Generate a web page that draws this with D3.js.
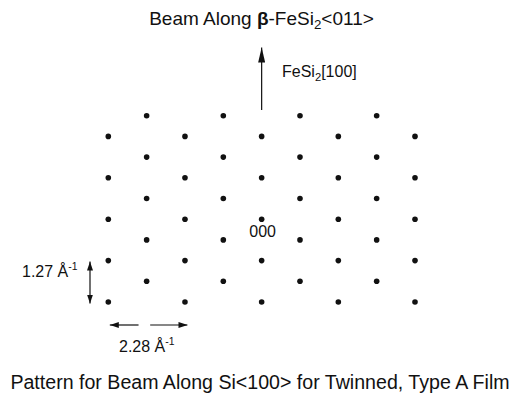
<!DOCTYPE html>
<html>
<head>
<meta charset="utf-8">
<script src="https://cdn.jsdelivr.net/npm/d3@7"></script>
<style>
  body { margin: 0; background: #fff; }
  text { font-family: 'Liberation Sans', Arial, Helvetica, sans-serif; fill: #111; }
</style>
</head>
<body>
<div id="chart"></div>
<script>
// reciprocal lattice spots, in 1/Å (qy positive = up, along FeSi2[100])
const evenRowQy = [2.54, 1.27, 0, -1.27, -2.54];
const evenColQx = [-4.56, -2.28, 0, 2.28, 4.56];
const oddRowQy = [3.175, 1.905, 0.635, -0.635, -1.905];
const oddColQx = [-3.42, -1.14, 1.14, 3.42];

// scale bars (1/Å)
const scaleBarX = { label: '2.28', from: -4.56, to: -2.28 };
const scaleBarY = { label: '1.27', from: -1.27, to: -2.54 };

const titleText = ['Beam Along ', 'β', '-FeSi', '2', '<011>'];
const beamLabel = ['FeSi', '2', '[100]'];
const originLabel = '000';
const captionText = 'Pattern for Beam Along Si<100> for Twinned, Type A Film';

const width = 521;
const height = 396;

const svg = d3.select('#chart').append('svg')
  .attr('width', width)
  .attr('height', height);

// map 1/Å onto the page
const x = d3.scaleLinear().domain([-4.56, 4.56]).range([108.3, 415]);
const y = d3.scaleLinear().domain([-2.54, 3.175]).range([302, 115.7]);

const spots = [];
evenRowQy.forEach((qy) => evenColQx.forEach((qx) => spots.push({ qx, qy })));
oddRowQy.forEach((qy) => oddColQx.forEach((qx) => spots.push({ qx, qy })));

svg.append('g')
  .selectAll('circle')
  .data(spots)
  .join('circle')
  .attr('cx', (d) => x(d.qx))
  .attr('cy', (d) => y(d.qy))
  .attr('r', 2.8)
  .attr('fill', '#111');

// arrow heads
const defs = svg.append('defs');
const head = (id, w, l) => {
  defs.append('marker')
    .attr('id', id)
    .attr('viewBox', `0 ${-w / 2} ${l} ${w}`)
    .attr('refX', l)
    .attr('refY', 0)
    .attr('markerWidth', l)
    .attr('markerHeight', w)
    .attr('markerUnits', 'userSpaceOnUse')
    .attr('orient', 'auto-start-reverse')
    .append('path')
    .attr('d', `M0,${-w / 2}L${l},0L0,${w / 2}Z`)
    .attr('fill', '#111');
};
head('beamHead', 7, 15);
head('barHead', 6, 9);

// beam direction arrow
svg.append('line')
  .attr('x1', x(0)).attr('x2', x(0))
  .attr('y1', 110).attr('y2', 47.5)
  .attr('stroke', '#111')
  .attr('stroke-width', 1.2)
  .attr('marker-end', 'url(#beamHead)');

// vertical scale bar
svg.append('line')
  .attr('x1', 90).attr('x2', 90)
  .attr('y1', y(scaleBarY.from) + 1).attr('y2', y(scaleBarY.to) + 1.5)
  .attr('stroke', '#111')
  .attr('stroke-width', 1.2)
  .attr('marker-start', 'url(#barHead)')
  .attr('marker-end', 'url(#barHead)');

// horizontal scale bar, broken in the middle
const xb = d3.scaleLinear().domain([0, 1]).range([x(scaleBarX.from) + 1.5, x(scaleBarX.to) + 2.5]);
svg.append('line')
  .attr('x1', xb(0.37)).attr('x2', xb(0))
  .attr('y1', 325).attr('y2', 325)
  .attr('stroke', '#111')
  .attr('stroke-width', 1.2)
  .attr('marker-end', 'url(#barHead)');
svg.append('line')
  .attr('x1', xb(0.52)).attr('x2', xb(1))
  .attr('y1', 325).attr('y2', 325)
  .attr('stroke', '#111')
  .attr('stroke-width', 1.2)
  .attr('marker-end', 'url(#barHead)');

// text helpers
const sub = (t, parts, subIdx, boldIdx) => {
  parts.forEach((p, i) => {
    const ts = t.append('tspan').text(p);
    if (i === subIdx) ts.attr('font-size', '0.7em').attr('dy', 4);
    if (i === subIdx + 1) ts.attr('dy', -4);
    if (i === boldIdx) ts.attr('font-weight', 'bold');
  });
};

const title = svg.append('text')
  .attr('x', 261.5)
  .attr('y', 25)
  .attr('text-anchor', 'middle')
  .attr('font-size', 19);
sub(title, titleText, 3, 1);

const beamText = svg.append('text')
  .attr('x', 282)
  .attr('y', 77)
  .attr('font-size', 16);
sub(beamText, beamLabel, 1, -1);

svg.append('text')
  .attr('x', x(0) + 1)
  .attr('y', y(0) + 18)
  .attr('text-anchor', 'middle')
  .attr('font-size', 16)
  .text(originLabel);

const unit = (t, val) => {
  t.append('tspan').text(`${val} Å`);
  t.append('tspan').text('-1').attr('font-size', '0.65em').attr('dy', -7);
};

unit(svg.append('text')
  .attr('x', 22)
  .attr('y', 277)
  .attr('font-size', 16), scaleBarY.label);

unit(svg.append('text')
  .attr('x', 119)
  .attr('y', 352)
  .attr('font-size', 16), scaleBarX.label);

svg.append('text')
  .attr('x', 260)
  .attr('y', 389)
  .attr('text-anchor', 'middle')
  .attr('font-size', 19.6)
  .text(captionText);
</script>
</body>
</html>
